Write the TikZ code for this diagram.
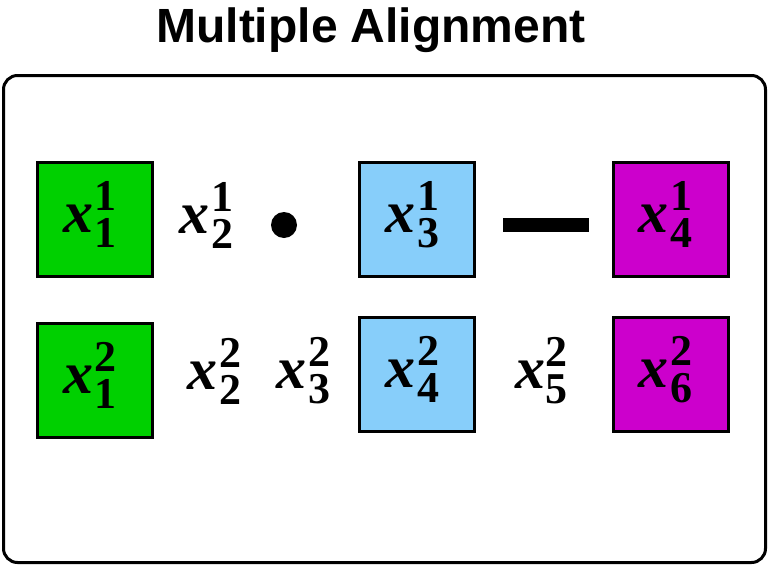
\documentclass[tikz,border=0pt]{standalone}
\usepackage{fontspec}
\setmainfont{Liberation Serif}
\newfontfamily\titlefont{Liberation Sans}
\usepackage{tikz}
\usetikzlibrary{positioning}
\definecolor{seqgreen}{RGB}{0,208,0}
\definecolor{seqblue}{RGB}{135,206,250}
\definecolor{seqmagenta}{RGB}{204,0,204}
% x with sub (#2) and sup (#3), stacked by hand
\newcommand{\seqlab}[3][2pt]{\textbf{\textit{x}}\kern#1\rlap{\raisebox{22pt}{\fontsize{44}{44}\selectfont\bfseries #3}}\raisebox{-15pt}{\fontsize{44}{44}\selectfont\bfseries #2}}
\tikzset{
  frame/.style={draw, line width=3pt, rounded corners=14pt},
  seqbox/.style={draw, line width=3pt, minimum width=115pt, minimum height=114pt, inner sep=0pt, text depth=25pt, font=\fontsize{60}{60}\selectfont, execute at end node={\kern10pt}},
  gbox/.style={seqbox, fill=seqgreen},
  bbox/.style={seqbox, fill=seqblue},
  mbox/.style={seqbox, fill=seqmagenta},
  freelab/.style={inner sep=0pt, font=\fontsize{60}{60}\selectfont},
  gapdot/.style={circle, fill=black, minimum size=26pt, inner sep=0pt},
  gapbar/.style={rectangle, fill=black, minimum width=86pt, minimum height=14pt, inner sep=0pt}
}
\begin{document}
\begin{tikzpicture}[x=1pt, y=-1pt]
  \useasboundingbox (0,0) rectangle (769,565);
  \node[anchor=base, font=\titlefont\bfseries\fontsize{48}{48}\selectfont] (title) at (371,42) {Multiple Alignment};
  \draw[frame] (3.5,75.5) rectangle (765.5,562.5);

  % sequence 1
  \node[gbox] (s11) at (95,219.5) {\seqlab{1}{1}};
  \node[freelab] (s12) at (206,215) {\seqlab{2}{1}};
  \node[gapdot] (d1) at (284,225) {};
  \node[bbox] (s13) at (417,219.5) {\seqlab{3}{1}};
  \node[gapbar] (d2) at (546,225) {};
  \node[mbox] (s14) at (670.5,219.5) {\seqlab{4}{1}};

  % sequence 2
  \node[gbox] (s21) at (95,380.5) {\seqlab{1}{2}};
  \node[freelab] (s22) at (214,371) {\seqlab{2}{2}};
  \node[freelab] (s23) at (303,371) {\seqlab{3}{2}};
  \node[bbox] (s24) at (417,374.5) {\seqlab{4}{2}};
  \node[freelab] (s25) at (541,371) {\seqlab[0pt]{5}{2}};
  \node[mbox] (s26) at (670.5,374.5) {\seqlab{6}{2}};
\end{tikzpicture}
\end{document}
